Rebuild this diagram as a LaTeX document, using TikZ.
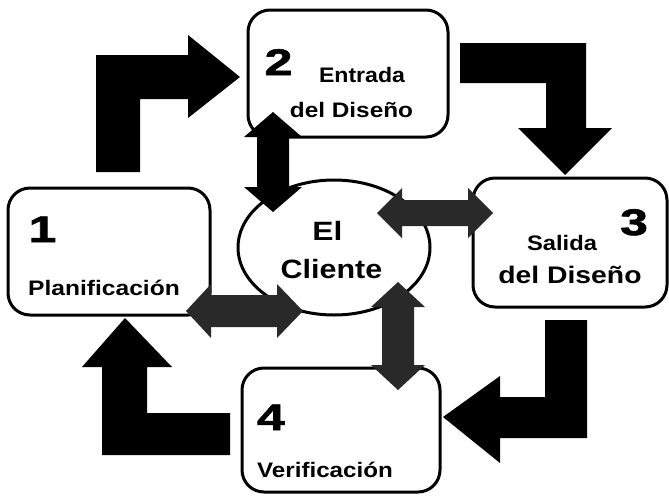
\documentclass[tikz,border=0pt]{standalone}
\usepackage{fontspec}
\setmainfont{Liberation Sans}
\newfontfamily\numfont[BoldFeatures={FakeBold=1.5}]{Liberation Sans}
\usetikzlibrary{shapes.geometric}
\newcommand{\stretchtext}[2]{\scalebox{#1}[1]{#2}}
\tikzset{
  box/.style={draw, line width=3pt, rounded corners=22pt, fill=white, inner sep=0pt},
  client/.style={ellipse, draw, line width=3pt, fill=white, inner sep=0pt},
  lbl/.style={anchor=base, inner sep=0pt, font=\bfseries\fontsize{21}{21}\selectfont},
  biglbl/.style={anchor=base, inner sep=0pt, font=\bfseries\fontsize{26.5}{26.5}\selectfont},
  num/.style={anchor=base, inner sep=0pt, font=\numfont\bfseries\fontsize{37}{37}\selectfont},
  solidarrow/.style={fill=black},
  greyarrow/.style={fill=black!84},
}
\begin{document}
\begin{tikzpicture}[x=1pt,y=-1pt]
\useasboundingbox (0,0) rectangle (669,496);

% stage boxes
\node[box, minimum width=202pt, minimum height=127pt] (p1) at (109,251.5) {};
\node[box, minimum width=200pt, minimum height=127pt] (p2) at (348,73.5) {};
\node[box, minimum width=194pt, minimum height=129pt] (p3) at (570,242.5) {};
\node[box, minimum width=198pt, minimum height=124pt] (p4) at (341,430) {};
% the client in the middle
\node[client, minimum width=192pt, minimum height=135pt] (cl) at (334,247.5) {};

% labels
\node[num] (n1) at (42.5,242) {\stretchtext{1.35}{1}};
\node[lbl] (t1) at (104,295) {\stretchtext{1.17}{Planificación}};
\node[num] (n2) at (278.5,75) {\stretchtext{1.35}{2}};
\node[lbl] (t2a) at (362,82) {\stretchtext{1.1}{Entrada}};
\node[lbl] (t2b) at (351.5,117) {\stretchtext{1.16}{del Diseño}};
\node[num] (n3) at (634,235) {\stretchtext{1.35}{3}};
\node[lbl] (t3a) at (562,250) {\stretchtext{1.13}{Salida}};
\node[lbl, font=\bfseries\fontsize{24}{24}\selectfont] (t3b) at (570,283) {\stretchtext{1.18}{del Diseño}};
\node[num] (n4) at (271,430) {\stretchtext{1.35}{4}};
\node[lbl] (t4) at (325,477) {\stretchtext{1.15}{Verificación}};
\node[biglbl] (c1) at (327.5,240) {\stretchtext{1.2}{El}};
\node[biglbl] (c2) at (331.5,278) {\stretchtext{1.15}{Cliente}};

% cycle arrows 1 -> 2 -> 3 -> 4 -> 1
\fill[solidarrow] (96,172) -- (96,55) -- (188,55) -- (188,35) -- (240,77)
  -- (188,118) -- (188,99) -- (140,99) -- (140,172) -- cycle;
\fill[solidarrow] (460,43) -- (586,43) -- (586,128) -- (612,128) -- (565,175)
  -- (518,128) -- (546,128) -- (546,83) -- (460,83) -- cycle;
\fill[solidarrow] (587,320) -- (587,438) -- (500,438) -- (500,463) -- (443,417)
  -- (500,376) -- (500,397) -- (545,397) -- (545,320) -- cycle;
\fill[solidarrow] (230,413) -- (147,413) -- (147,367) -- (172,367) -- (125,318)
  -- (82,367) -- (102,367) -- (102,455) -- (230,455) -- cycle;

% two-way arrows between the client and each stage
\fill[solidarrow] (273,112) -- (302,137) -- (289,137) -- (289,187) -- (302,187)
  -- (273,212) -- (244,187) -- (257,187) -- (257,137) -- (244,137) -- cycle;
\fill[greyarrow] (377,213) -- (402,188) -- (402,200) -- (468,200) -- (468,188)
  -- (493,213) -- (468,238) -- (468,226) -- (402,226) -- (402,238) -- cycle;
\fill[greyarrow] (186,311) -- (211,284) -- (211,295) -- (277,295) -- (277,284)
  -- (303,311) -- (277,338) -- (277,327) -- (211,327) -- (211,338) -- cycle;
\fill[greyarrow] (398,282) -- (425,307) -- (414,307) -- (414,365) -- (425,365)
  -- (398,390) -- (371,365) -- (382,365) -- (382,307) -- (371,307) -- cycle;
\end{tikzpicture}
\end{document}
